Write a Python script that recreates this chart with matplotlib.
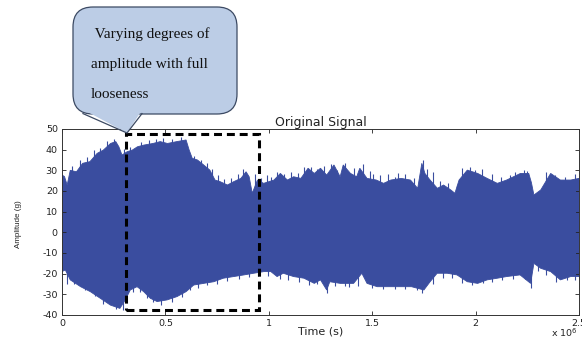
import numpy as np
import matplotlib
matplotlib.use("Agg")
import matplotlib.pyplot as plt
from matplotlib.patches import FancyBboxPatch, Polygon, Rectangle
from matplotlib.lines import Line2D
from matplotlib.transforms import Affine2D

plt.rcParams["axes.unicode_minus"] = False

W, H = 582, 341

# envelope of the signal (time in units of 1e6)
upper_x = [0.0, 0.012, 0.025, 0.04, 0.07, 0.1, 0.135, 0.17, 0.2, 0.235, 0.26, 0.275, 0.29, 0.315,
           0.34, 0.365, 0.395, 0.44, 0.475, 0.51, 0.555, 0.6, 0.615, 0.63, 0.655, 0.685, 0.715,
           0.74, 0.765, 0.8, 0.83, 0.865, 0.89, 0.905, 0.92, 0.945, 0.975, 1.025, 1.056, 1.09,
           1.12, 1.155, 1.19, 1.22, 1.25, 1.28, 1.315, 1.345, 1.36, 1.395, 1.425, 1.44, 1.475,
           1.52, 1.555, 1.59, 1.64, 1.685, 1.72, 1.74, 1.755, 1.78, 1.815, 1.845, 1.88, 1.9, 1.92,
           1.96, 2.01, 2.056, 2.105, 2.15, 2.217, 2.257, 2.27, 2.282, 2.315, 2.363, 2.41, 2.46, 2.5]
upper_y = [27.7, 27, 22.9, 30, 29.3, 33.4, 34.2, 38.2, 39.8, 43, 43.9, 41.4, 37.4, 39,
           39.8, 41.4, 42.2, 43, 43.9, 43, 43.9, 44.7, 39.8, 35.8, 35, 32.6, 30.1,
           25.3, 24.5, 22.9, 24.5, 26.1, 29.3, 26.9, 18.9, 25.3, 23.7, 25.3, 28.5, 25.3,
           26.9, 26.1, 31, 28.5, 31, 27.7, 32.6, 26.9, 32.6, 28.5, 26.9, 31, 26.1,
           25.3, 23.7, 25.3, 26.1, 25.3, 21.3, 33.4, 28.5, 25.3, 21.3, 22.9, 20.5, 18.9, 25.3,
           30.1, 28.5, 26.1, 23.7, 25.3, 28.5, 28.5, 24, 18.05, 20.5, 28.5, 25.3, 25.3, 26.1]

lower_x = [0.0, 0.016, 0.04, 0.09, 0.137, 0.185, 0.234, 0.28, 0.306, 0.33, 0.363, 0.395, 0.427,
           0.46, 0.508, 0.556, 0.6, 0.637, 0.685, 0.734, 0.78, 0.83, 0.88, 0.927, 0.976, 1.01,
           1.04, 1.07, 1.12, 1.17, 1.22, 1.25, 1.28, 1.295, 1.346, 1.41, 1.45, 1.475, 1.524,
           1.58, 1.637, 1.69, 1.75, 1.78, 1.814, 1.863, 1.91, 1.96, 2.01, 2.056, 2.105, 2.15,
           2.215, 2.266, 2.282, 2.315, 2.363, 2.41, 2.46, 2.5]
lower_y = [-19, -18.2, -23, -26.3, -28.7, -31.9, -35.2, -36.8, -32.7, -27.9, -26.3, -28.7, -31.9,
           -33.5, -32.7, -31.1, -28.7, -25.5, -24.7, -23.9, -22.2, -21.4, -20.6, -19.8, -19, -19,
           -21.4, -19.8, -21.4, -22.2, -24.7, -23, -27.9, -23.9, -24.7, -24.7, -19.8, -24.7, -26.3,
           -26.3, -26.3, -26.3, -27.9, -23.9, -19.8, -19.8, -20.6, -23.9, -24.7, -23, -22.2, -21.4,
           -20.6, -24.7, -15, -17.4, -19, -23, -21.4, -21.4]

# single tall peaks sticking out of the envelope
peak_up_x = [0.05, 0.085, 0.12, 0.155, 0.185, 0.22, 0.25, 0.3, 0.33, 0.38, 0.42, 0.455, 0.49,
             0.53, 0.575, 0.64, 0.67, 0.7, 0.725, 0.755, 0.785, 0.815, 0.85, 0.875, 0.935, 0.96,
             0.99, 1.01, 1.04, 1.075, 1.105, 1.14, 1.17, 1.205, 1.235, 1.265, 1.3, 1.33, 1.37,
             1.41, 1.455, 1.49, 1.505, 1.54, 1.575, 1.61, 1.625, 1.66, 1.7, 1.745, 1.765, 1.795,
             1.83, 1.865, 1.91, 1.935, 1.975, 1.995, 2.03, 2.08, 2.125, 2.165, 2.19, 2.235, 2.25,
             2.34, 2.385, 2.43, 2.48]
peak_up_y = [32, 35, 36.5, 40, 41, 44, 45, 40.5, 41.5, 43.5, 44.5, 45, 45.5,
             45, 46, 37, 35, 33.5, 30.5, 27.5, 26, 26.5, 28, 30.5, 28, 26.5,
             27.5, 27, 29, 28, 29, 28.5, 31.5, 31.5, 30.5, 32, 33, 30, 33.5,
             31, 33, 29.5, 28, 27.5, 28, 27, 28.5, 28, 26.5, 35, 30.5, 29,
             25, 24, 23, 31, 31.5, 30, 30.5, 28, 27, 27.5, 29, 30, 29.5,
             29, 27.5, 27, 28]
peak_dn_x = [0.025, 0.06, 0.11, 0.16, 0.2, 0.26, 0.295, 0.345, 0.375, 0.41, 0.44, 0.48, 0.53,
             0.58, 0.62, 0.66, 0.7, 0.75, 0.8, 0.855, 0.905, 0.95, 0.995, 1.055, 1.095, 1.145,
             1.195, 1.235, 1.28, 1.32, 1.37, 1.39, 1.43, 1.5, 1.55, 1.61, 1.66, 1.715, 1.74,
             1.795, 1.84, 1.885, 1.935, 1.985, 2.035, 2.08, 2.13, 2.18, 2.24, 2.266, 2.3, 2.34,
             2.39, 2.44, 2.48]
peak_dn_y = [-25, -25, -28, -31, -34.5, -37, -37.5, -29, -29, -32, -33.5, -35, -33.5,
             -31.5, -28, -27, -25.5, -25, -23.5, -22.5, -21.5, -21, -21, -22.5, -23, -24,
             -25.5, -25, -29.5, -26, -26, -26.5, -26, -27, -27.5, -27.5, -27.5, -28, -29.5,
             -25, -22, -22, -24.5, -25.5, -24.5, -24, -23, -22.5, -22.5, -27, -18.5, -20.5,
             -24, -23, -23]

x_ticks = [0, 0.5, 1, 1.5, 2, 2.5]
x_ticklabels = ["0", "0.5", "1", "1.5", "2", "2.5"]
y_ticks = [-40, -30, -20, -10, 0, 10, 20, 30, 40, 50]

# dashed box around the high-amplitude part
box_x0, box_x1 = 0.311, 0.952
box_y0, box_y1 = -37.6, 47.6

callout_lines = [" Varying degrees of", "amplitude with full", "looseness"]

sig_color = "#3a4d9f"


def fx(px):
    return px / W


def fy(py):
    return 1 - py / H


fig = plt.figure(figsize=(W / 100, H / 100), dpi=100)
ax = fig.add_axes([fx(62), fy(315), fx(579) - fx(62), fy(129) - fy(315)])

poly_x = np.concatenate([upper_x, lower_x[::-1]])
poly_y = np.concatenate([upper_y, lower_y[::-1]])
ax.fill(poly_x, poly_y, color=sig_color, lw=0.6)
ax.vlines(peak_up_x, 0, peak_up_y, color=sig_color, lw=0.8)
ax.vlines(peak_dn_x, peak_dn_y, 0, color=sig_color, lw=0.8)

ax.set_xlim(0, 2.5)
ax.set_ylim(-40, 50)
ax.set_xticks(x_ticks)
ax.set_xticklabels(x_ticklabels)
ax.set_yticks(y_ticks)
ax.tick_params(direction="in", length=3, width=0.6, top=True, right=True,
               labelsize=6.8, colors="#222222", pad=3)
for sp in ax.spines.values():
    sp.set_linewidth(0.7)
    sp.set_color("#333333")

ax.set_title("Original Signal", fontsize=9, pad=2, color="#222222")
ax.set_xlabel("Time (s)", fontsize=8, color="#222222", va="center")
ax.xaxis.set_label_coords(0.5, -(331 - 315) / (315 - 129))
ax.set_ylabel("Amplitude (g)", fontsize=5.8, color="#222222", family="Liberation Sans",
              va="center")
ax.yaxis.set_label_coords(-(62 - 19) / (579 - 62), 0.49)
fig.text(fx(578), fy(333), r"x 10$^{6}$", fontsize=6.8, ha="right", va="center", color="#222222")

rect = Rectangle((box_x0, box_y0), box_x1 - box_x0, box_y1 - box_y0, fill=False,
                 ec="black", lw=2.2, ls=(0, (2.6, 1.6)), clip_on=False, zorder=5)
ax.add_patch(rect)

# callout bubble, drawn in pixel space (y up)
pix = Affine2D().scale(1 / W, 1 / H) + fig.transFigure
bub_fc = "#bccde6"
bub_ec = "#3c4a63"
bub = FancyBboxPatch((73, H - 114), 237 - 73, 114 - 7,
                     boxstyle="round,pad=0,rounding_size=20", transform=pix,
                     fc=bub_fc, ec=bub_ec, lw=0.9, zorder=6)
fig.add_artist(bub)
tri = Polygon([(84, H - 110), (127, H - 133), (142, H - 110)], closed=True,
              transform=pix, fc=bub_fc, ec="none", zorder=7)
fig.add_artist(tri)
fig.add_artist(Line2D([83, 127, 142], [H - 113.6, H - 133, H - 113.6],
                      transform=pix, color=bub_ec, lw=0.9, zorder=8))

for i, line in enumerate(callout_lines):
    fig.text(fx(91), fy(38 + 30 * i), line, fontsize=11, family="Liberation Serif",
             ha="left", va="baseline", color="#111111", zorder=9)

fig.savefig("out.png", dpi=100)
